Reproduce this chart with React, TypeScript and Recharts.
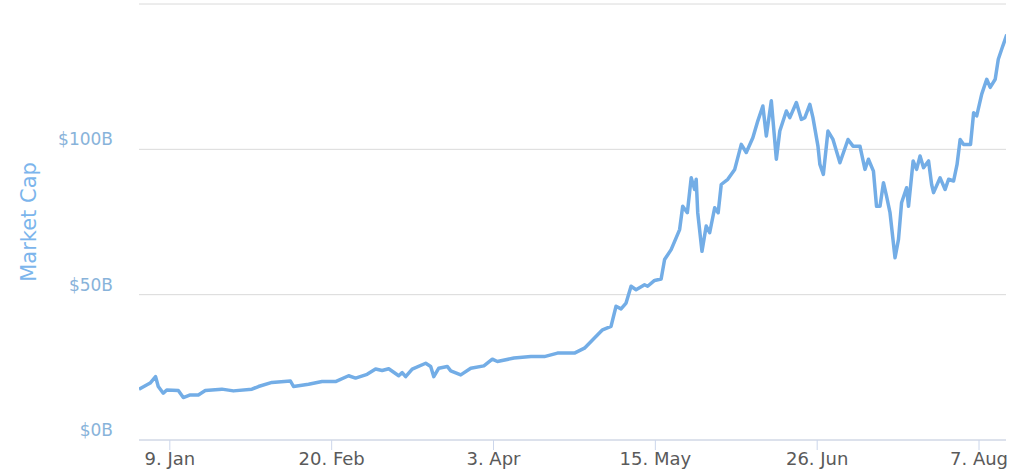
import React from 'react';
import { LineChart, Line, XAxis, YAxis, CartesianGrid, Label } from 'recharts';

// Days since 1 Jan 2017
const days = [
  0, 2.9, 4.3, 5, 6.3, 7.2, 10.2, 11.5, 13.3, 15.4, 17.2, 21.5, 24.5, 29.3, 31, 34.5, 39.3, 40.1, 44, 47.5,
  51, 54.4, 56.2, 59.2, 61.4, 63.1, 64.8, 67.4, 68.3, 69.2, 70.9, 74.4, 75.7, 76.5, 77.8, 80, 80.9, 83.5, 86.1, 89.5,
  91.7, 93, 97.3, 101.7, 105.2, 108.6, 113, 115.6, 118.2, 120.3, 122.5, 123.8, 125.1, 126.4, 127.7, 129, 131.2, 132, 133.8, 135.5,
  136.4, 138.1, 140.3, 141.1, 142.3, 143.3, 144.2, 144.6, 145, 146.1, 147.2, 148.1, 149.4, 150.3, 151.1, 152.8, 154.6, 156.3, 157.6, 159.3,
  160.6, 161.9, 162.8, 164.1, 165.4, 166.3, 168, 168.9, 170.6, 171.9, 172.8, 174.1, 174.9, 176.2, 176.7, 177.6, 178.8, 180.1, 181.9, 184,
  185.3, 187.1, 188.4, 189.3, 190.6, 191.4, 192.3, 193.2, 194, 194.9, 196.2, 197.1, 197.9, 199.2, 199.7, 200.9, 201.8, 202.7, 203.6, 204.9,
  205.7, 206.2, 207.9, 209.2, 210.1, 211.4, 212.3, 213.1, 214, 215.8, 216.6, 217.4, 218.7, 220, 220.9, 222.2, 223, 223.9, 225.2,
];
// Market cap, billions USD
const caps = [
  17.5, 19.6, 21.8, 18.4, 16.1, 17.2, 17.0, 14.6, 15.5, 15.5, 17.0, 17.5, 16.9, 17.5, 18.4, 19.8, 20.3, 18.4, 19.2, 20.1,
  20.1, 22.1, 21.3, 22.6, 24.4, 23.9, 24.5, 22.1, 23.2, 21.8, 24.4, 26.4, 25.3, 21.8, 24.7, 25.3, 23.8, 22.4, 24.7, 25.5,
  27.8, 27.0, 28.2, 28.7, 28.7, 29.9, 29.9, 31.6, 35.1, 37.9, 39.1, 46.0, 45.1, 47.1, 52.9, 51.7, 53.4, 52.9, 54.9, 55.4,
  62.1, 65.5, 72.4, 80.4, 78.2, 90.2, 86.2, 89.7, 78.2, 64.9, 73.6, 71.3, 79.9, 78.2, 87.9, 89.7, 93.1, 101.7, 98.9, 104.0,
  109.8, 114.9, 104.6, 116.7, 96.6, 106.3, 113.2, 110.9, 116.1, 110.3, 110.9, 115.5, 110.9, 101.1, 94.8, 91.4, 106.3, 103.4, 95.4, 103.4,
  101.1, 101.1, 93.1, 96.6, 92.5, 80.4, 80.4, 88.5, 83.9, 78.2, 62.7, 69.0, 81.6, 86.8, 80.4, 96.0, 93.1, 97.7, 93.7, 96.0,
  87.9, 85.1, 90.2, 86.2, 89.7, 89.1, 94.8, 103.4, 101.7, 101.7, 112.6, 111.5, 119.0, 124.1, 121.3, 124.1, 131.0, 134.5, 139.5,
];

const xTicks = [8, 50, 92, 134, 176, 218];
const xTickLabels = ['9. Jan', '20. Feb', '3. Apr', '15. May', '26. Jun', '7. Aug'];
const yTicks = [0, 50, 100, 150];
const yTickLabels = ['$0B', '$50B', '$100B', ''];

const data = days.map((d, i) => ({ day: d, cap: caps[i] }));

const FONT = '"DejaVu Sans", "Lucida Grande", sans-serif';

const YTick = (props: any) => {
  const { x, y, payload } = props;
  const idx = yTicks.indexOf(payload.value);
  const label = idx >= 0 ? yTickLabels[idx] : '';
  return (
    <text x={x} y={y - 4} textAnchor="end" fill="#88b3da" fontSize={17} fontFamily={FONT}>
      {label}
    </text>
  );
};

const xFormat = (v: number) => {
  const idx = xTicks.indexOf(v);
  return idx >= 0 ? xTickLabels[idx] : '';
};

export default function App() {
  return (
    <div style={{ position: 'absolute', left: 0, top: 0, width: 1024, height: 473, background: '#fff' }}>
      <LineChart width={1024} height={473} data={data} margin={{ top: 4, right: 18, bottom: 0, left: 0 }}>
        <CartesianGrid vertical={false} stroke="#dadada" strokeWidth={1} />
        <XAxis
          type="number"
          dataKey="day"
          domain={[0, 225]}
          ticks={xTicks}
          tickFormatter={xFormat}
          height={33}
          tickSize={10}
          tickMargin={2}
          axisLine={{ stroke: '#ccd6eb', strokeWidth: 1 }}
          tickLine={{ stroke: '#ccd6eb' }}
          tick={{ fill: '#5a5a5a', fontSize: 18, fontFamily: FONT }}
          allowDataOverflow
        />
        <YAxis
          type="number"
          domain={[0, 150]}
          ticks={yTicks}
          width={139}
          axisLine={false}
          tickLine={false}
          tickSize={0}
          tickMargin={26}
          tick={<YTick />}
        >
          <Label
            content={(p: any) => {
              const vb = p.viewBox || {};
              const cx = (vb.x || 0) + 29;
              const cy = (vb.y || 0) + (vb.height || 0) / 2;
              return (
                <text
                  x={cx}
                  y={cy}
                  transform={`rotate(-90 ${cx} ${cy})`}
                  textAnchor="middle"
                  dominantBaseline="central"
                  fill="#7cb5ec"
                  fontSize={21}
                  fontFamily={FONT}
                >
                  Market Cap
                </text>
              );
            }}
          />
        </YAxis>
        <Line
          type="linear"
          dataKey="cap"
          stroke="#73ade6"
          strokeWidth={3.5}
          dot={false}
          isAnimationActive={false}
          strokeLinejoin="round"
        />
      </LineChart>
    </div>
  );
}
